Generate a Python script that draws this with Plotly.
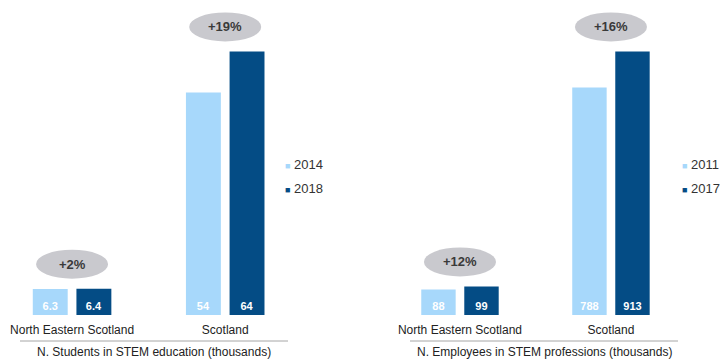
import plotly.graph_objects as go

# ---- data -------------------------------------------------------------
regions = ["North Eastern Scotland", "Scotland"]

students_years = ["2014", "2018"]
students_2014 = [6.3, 54]
students_2018 = [6.4, 64]
students_growth = ["+2%", "+19%"]
students_title = "N. Students in STEM education (thousands)"

employees_years = ["2011", "2017"]
employees_2011 = [88, 788]
employees_2017 = [99, 913]
employees_growth = ["+12%", "+16%"]
employees_title = "N. Employees in STEM professions (thousands)"

# ---- styling ----------------------------------------------------------
LIGHT = "#a7d8fb"
DARK = "#044c85"
PILL = "#c9c9ce"
FONT = "Liberation Sans, Arial, sans-serif"
W, H = 725, 361

fig = go.Figure()

axis_common = dict(showgrid=False, zeroline=False, showline=False)
legend_common = dict(xanchor="left", yanchor="top", bgcolor="rgba(0,0,0,0)",
                     tracegroupgap=4,
                     font=dict(size=13, family=FONT, color="#333333"))
fig.update_layout(
    width=W, height=H,
    margin=dict(l=0, r=0, t=0, b=0, autoexpand=False),
    paper_bgcolor="white", plot_bgcolor="white",
    barmode="group", bargap=0.43, bargroupgap=0.2,
    font=dict(family=FONT, color="#222222"),
    xaxis=dict(domain=[20 / W, 288 / W], anchor="y", type="category",
               tickfont=dict(size=12, family=FONT, color="#222222"),
               ticks="", ticklabelstandoff=6, automargin=False, **axis_common),
    yaxis=dict(domain=[1 - 315 / H, 1], anchor="x", visible=False, **axis_common),
    xaxis2=dict(domain=[410 / W, 678 / W], anchor="y2", type="category",
                tickfont=dict(size=12, family=FONT, color="#222222"),
                ticks="", ticklabelstandoff=6, automargin=False, **axis_common),
    yaxis2=dict(domain=[1 - 315 / H, 1], anchor="x2", visible=False, **axis_common),
    legend=dict(x=245 / W, y=1 - 149 / H, **legend_common),
    legend2=dict(x=642 / W, y=1 - 149 / H, **legend_common),
)


def panel(xa, ya, legend, years, first, second, growth, title, xrange):
    axis_x = "x" if xa == "xaxis" else "x" + xa[5:]
    axis_y = "y" if ya == "yaxis" else "y" + ya[5:]
    for vals, color, year in ((first, LIGHT, years[0]), (second, DARK, years[1])):
        fig.add_trace(go.Bar(
            x=regions, y=vals, marker_color=color, marker_line_width=0,
            text=[f"{v:g}" for v in vals], textposition="inside",
            insidetextanchor="start", textangle=0,
            textfont=dict(color="white", size=11, family=FONT, weight="bold"),
            xaxis=axis_x, yaxis=axis_y, showlegend=False, hoverinfo="skip",
        ))
        # legend entry: a small coloured square drawn right next to the year
        fig.add_trace(go.Scatter(
            x=[None], y=[None], mode="markers",
            name=f'<span style="color:{color};font-size:9px">■</span> {year}',
            marker=dict(size=1, color="rgba(0,0,0,0)"),
            xaxis=axis_x, yaxis=axis_y, legend=legend, legendgroup=year,
        ))
    top = max(max(first), max(second))
    fig.layout[ya].update(range=[0, top * 1.195])
    fig.layout[xa].update(range=xrange)

    # growth pills above each pair of bars
    for i, label in enumerate(growth):
        peak = max(first[i], second[i])
        fig.add_shape(
            type="circle", xref=axis_x, yref=axis_y,
            xsizemode="pixel", ysizemode="pixel",
            xanchor=i, yanchor=peak,
            x0=-36, x1=36, y0=10, y1=39,
            fillcolor=PILL, line_width=0, layer="below",
        )
        fig.add_annotation(
            x=i, y=peak, xref=axis_x, yref=axis_y, yshift=24.5,
            text=label, showarrow=False,
            font=dict(size=13, family=FONT, color="#3a3a3a", weight="bold"),
        )

    # separator line and panel caption
    fig.add_shape(
        type="line", xref=f"{axis_x} domain", yref="paper",
        x0=0, x1=1, y0=1 - 341 / H, y1=1 - 341 / H,
        line=dict(color="#a6a6a6", width=1),
    )
    fig.add_annotation(
        x=0.5, y=1 - 352 / H, xref=f"{axis_x} domain", yref="paper",
        text=title, showarrow=False, yanchor="middle",
        font=dict(size=12, family=FONT, color="#222222"),
    )


panel("xaxis", "yaxis", "legend", students_years, students_2014,
      students_2018, students_growth, students_title, [-0.34, 1.41])
panel("xaxis2", "yaxis2", "legend2", employees_years, employees_2011,
      employees_2017, employees_growth, employees_title, [-0.331, 1.444])

fig.write_html("out.html")
